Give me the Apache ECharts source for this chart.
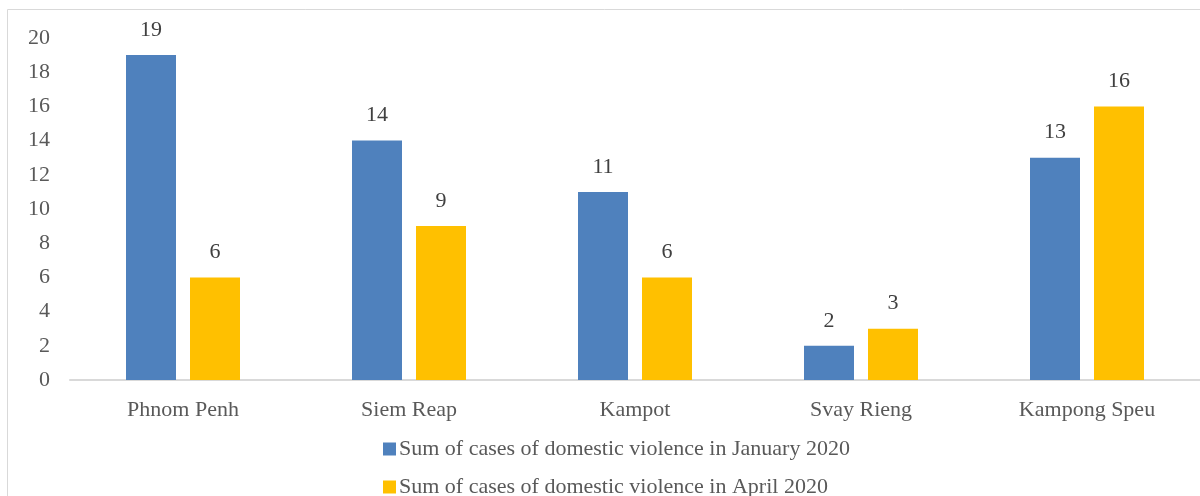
<!DOCTYPE html>
<html>
<head>
<meta charset="utf-8">
<script src="https://cdn.jsdelivr.net/npm/echarts@6/dist/echarts.min.js"></script>
<style>
  html, body { margin: 0; padding: 0; background: #fff; }
  #chart { width: 1200px; height: 496px; }
</style>
</head>
<body>
<div id="chart"></div>
<script>
// provinces and case counts
const provinces = ['Phnom Penh', 'Siem Reap', 'Kampot', 'Svay Rieng', 'Kampong Speu'];
const january = [19, 14, 11, 2, 13];
const april = [6, 9, 6, 3, 16];
const seriesNames = [
  'Sum of cases of domestic violence in January 2020',
  'Sum of cases of domestic violence in April 2020'
];

const font = '"Liberation Serif", "DejaVu Serif", serif';
const chart = echarts.init(document.getElementById('chart'));

// one legend per row so they stack like the original
function legendRow(name, top) {
  return {
    left: 378,
    top: top,
    itemWidth: 13,
    itemHeight: 13,
    itemGap: 4,
    icon: 'rect',
    textStyle: { fontFamily: font, fontSize: 22, color: '#595959', lineHeight: 24, padding: [0, 0, 0, -2] },
    data: [name]
  };
}

chart.setOption({
  animation: false,
  color: ['#4f81bd', '#ffc000'],
  textStyle: { fontFamily: font },
  graphic: [{
    type: 'rect',
    shape: { x: 7.5, y: 9.5, width: 1200, height: 500 },
    style: { fill: 'none', stroke: '#d9d9d9', lineWidth: 1 },
    silent: true
  }],
  legend: [legendRow(seriesNames[0], 432), legendRow(seriesNames[1], 470)],
  grid: { left: 70, right: 0, top: 38, bottom: 116 },
  xAxis: {
    type: 'category',
    data: provinces,
    axisLine: { lineStyle: { color: '#d9d9d9', width: 2 } },
    axisTick: { show: false },
    axisLabel: { fontFamily: font, fontSize: 22, color: '#595959', margin: 19 }
  },
  yAxis: {
    type: 'value',
    min: 0,
    max: 20,
    interval: 2,
    axisLine: { show: false },
    axisTick: { show: false },
    splitLine: { show: false },
    axisLabel: { fontFamily: font, fontSize: 22, color: '#595959', margin: 20 }
  },
  series: [
    {
      name: seriesNames[0],
      type: 'bar',
      data: january,
      barWidth: 50,
      barGap: '28%',
      label: { show: true, position: 'top', distance: 14, fontFamily: font, fontSize: 22, color: '#404040' }
    },
    {
      name: seriesNames[1],
      type: 'bar',
      data: april,
      barWidth: 50,
      label: { show: true, position: 'top', distance: 14, fontFamily: font, fontSize: 22, color: '#404040' }
    }
  ]
});
</script>
</body>
</html>
